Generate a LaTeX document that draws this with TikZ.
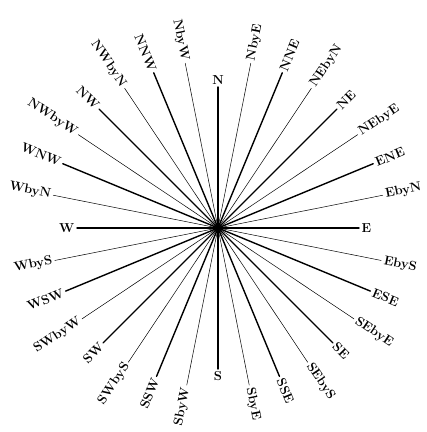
\documentclass[tikz,border=0pt]{standalone}
\usetikzlibrary{calc}

\tikzset{
  rose line/.style={line cap=round},
  rose label/.style={inner sep=2.5pt,font=\fontsize{13}{15}\selectfont\bfseries},
  rose hub/.style={circle,fill=black,inner sep=0pt,minimum size=5pt}
}

\begin{document}
\begin{tikzpicture}[x=1pt,y=1pt]
  \useasboundingbox (0,0) rectangle (427,432);
  \node[rose hub] (c) at (218,204) {};
  \foreach \name [count=\i from 0] in {N,NbyE,NNE,NEbyN,NE,NEbyE,ENE,EbyN,
      E,EbyS,ESE,SEbyE,SE,SEbyS,SSE,SbyE,S,SbyW,SSW,SWbyS,SW,SWbyW,WSW,WbyS,
      W,WbyN,WNW,NWbyW,NW,NWbyN,NNW,NbyW}{
    \pgfmathsetmacro{\ang}{90-11.25*\i}
    % the lower points sit a little closer in
    \pgfmathsetmacro{\rad}{mod(\i,8)==0 ? 141 : 168-8*max(0,-sin(\ang))}
    \pgfmathsetmacro{\lw}{mod(\i,2)==0 ? 1.4 : 0.5}
    \coordinate (e\i) at ($(c)+(\ang:\rad)$);
    \draw[rose line,line width=\lw pt] (c.center) -- (e\i);
    \ifnum\i=0
      \node[rose label,anchor=south] (l\i) at (e\i) {\name};
    \else\ifnum\i=16
      \node[rose label,anchor=north] (l\i) at (e\i) {\name};
    \else\ifnum\i<16
      \node[rose label,anchor=west,rotate=\ang] (l\i) at (e\i) {\name};
    \else
      \node[rose label,anchor=east,rotate=\ang+180] (l\i) at (e\i) {\name};
    \fi\fi\fi
  }
\end{tikzpicture}
\end{document}
